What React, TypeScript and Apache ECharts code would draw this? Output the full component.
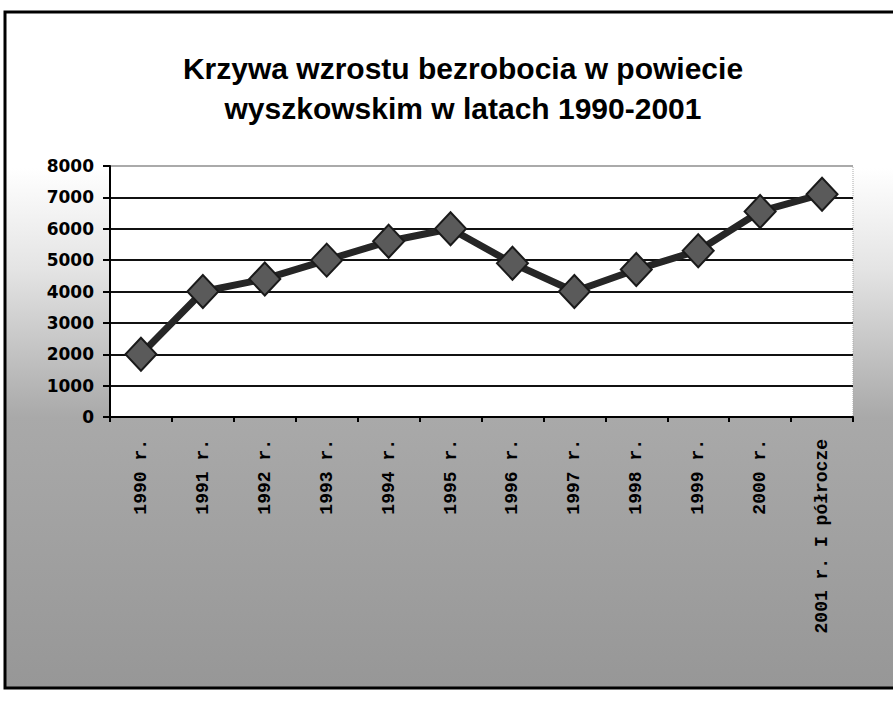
import React, { useEffect, useRef } from "react";
import * as echarts from "echarts";

const categories = [
  "1990 r.", "1991 r.", "1992 r.", "1993 r.", "1994 r.", "1995 r.",
  "1996 r.", "1997 r.", "1998 r.", "1999 r.", "2000 r.", "2001 r. I półrocze",
];
const unemployed = [2000, 4000, 4400, 5000, 5600, 6000, 4900, 4000, 4700, 5300, 6550, 7100];
const titleLines = ["Krzywa wzrostu bezrobocia w powiecie", "wyszkowskim w latach 1990-2001"];

export default function App() {
  const ref = useRef<HTMLDivElement>(null);
  useEffect(() => {
    if (!ref.current) return;
    const chart = echarts.init(ref.current, undefined, { renderer: "svg" });
    const gridColors = ["#111", "#111", "#111", "#111", "#111", "#111", "#111", "#111", "#aaa"];
    chart.setOption({
      animation: false,
      backgroundColor: "#fff",
      title: {
        text: titleLines.join("\n"),
        left: 458,
        textAlign: "center",
        top: 43,
        textStyle: {
          fontFamily: "Liberation Sans, Arial, sans-serif",
          fontWeight: "bold",
          fontSize: 30,
          lineHeight: 40,
          color: "#000",
        },
      },
      graphic: [
        {
          type: "rect",
          z: -10,
          silent: true,
          shape: { x: 6, y: 13, width: 887, height: 674 },
          style: {
            fill: new echarts.graphic.LinearGradient(0, 0, 0, 1, [
              { offset: 0, color: "#ffffff" },
              { offset: 0.23, color: "#ffffff" },
              { offset: 0.38, color: "#e4e4e4" },
              { offset: 0.6, color: "#a9a9a9" },
              { offset: 1, color: "#979797" },
            ]),
          },
        },
        {
          type: "polyline",
          z: 10,
          silent: true,
          shape: { points: [[893, 12], [5, 12], [5, 688], [893, 688]] },
          style: { stroke: "#000", lineWidth: 3, fill: "none" },
        },
      ],
      grid: {
        left: 110,
        right: 40,
        top: 166,
        bottom: 285,
        show: true,
        backgroundColor: "#fff",
        borderColor: "#aaa",
        borderWidth: 1,
        borderType: "dotted",
      },
      xAxis: {
        type: "category",
        data: categories,
        boundaryGap: true,
        axisLine: { show: true, lineStyle: { color: "#000", width: 2 } },
        axisTick: { show: true, length: 5, lineStyle: { color: "#000", width: 2 } },
        axisLabel: {
          rotate: 90,
          interval: 0,
          margin: 22,
          fontFamily: "Liberation Mono, Courier New, monospace",
          fontWeight: "bold",
          fontSize: 18,
          color: "#000",
        },
        splitLine: { show: false },
      },
      yAxis: {
        type: "value",
        min: 0,
        max: 8000,
        interval: 1000,
        axisLine: { show: true, lineStyle: { color: "#000", width: 2 } },
        axisTick: { show: true, length: 7, lineStyle: { color: "#000", width: 2 } },
        axisLabel: {
          margin: 16,
          formatter: (v: number) => String(v),
          fontFamily: "DejaVu Sans, sans-serif",
          fontWeight: "bold",
          fontSize: 17,
          color: "#000",
        },
        splitLine: { show: true, lineStyle: { color: gridColors, width: 2 } },
      },
      series: [
        {
          type: "line",
          data: unemployed,
          symbol: "diamond",
          symbolSize: [31, 33],
          lineStyle: { color: "#262626", width: 7 },
          itemStyle: { color: "#5a5a5a", borderColor: "#1a1a1a", borderWidth: 2 },
        },
      ],
    });
    return () => chart.dispose();
  }, []);
  return (
    <div
      ref={ref}
      style={{ position: "absolute", left: 0, top: 0, width: 893, height: 702 }}
    />
  );
}
